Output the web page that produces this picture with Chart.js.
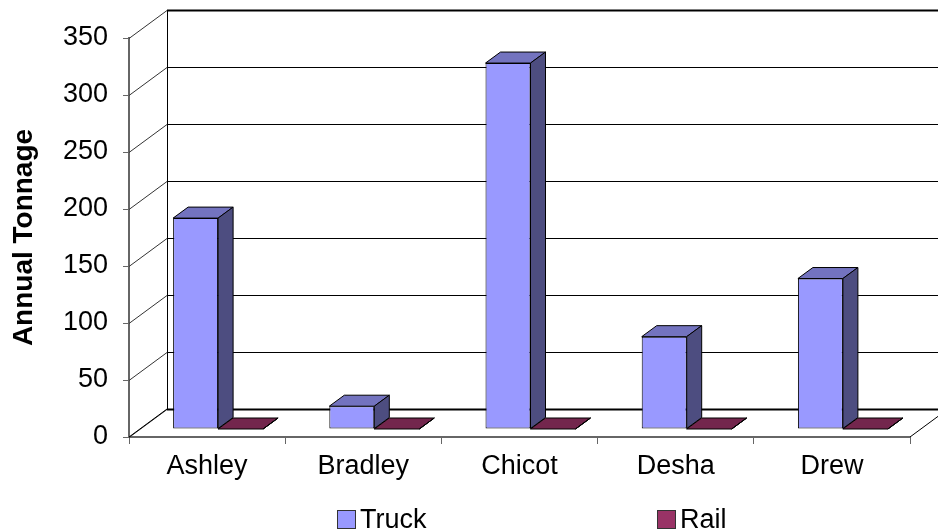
<!DOCTYPE html>
<html>
<head>
<meta charset="utf-8">
<script src="https://cdn.jsdelivr.net/npm/chart.js@4/dist/chart.umd.min.js"></script>
<style>
  html, body { margin: 0; padding: 0; background: #fff; overflow: hidden; }
  canvas { display: block; }
</style>
</head>
<body>
<canvas id="chart" width="938" height="531"></canvas>
<script>
// County freight volumes by mode
const categories = ['Ashley', 'Bradley', 'Chicot', 'Desha', 'Drew'];
const truckTonnage = [185, 20, 321, 81, 132];
const railTonnage = [0, 0, 0, 0, 0];
const seriesNames = ['Truck', 'Rail'];
const yAxisTitle = 'Annual Tonnage';
const yMin = 0, yMax = 350, yStep = 50;

// Face colours: front, top, side
const truckColors = ['#9999FF', '#7373BF', '#4D4D80'];
const railColors = ['#993366', '#73264D', '#4D1A33'];

// Oblique projection offsets
const FRONT = { dx: 11, dy: -8 };   // bar front face, relative to the front of the floor
const DEPTH = { dx: 15, dy: -11 };  // bar depth
const WALL = { dx: 38, dy: -28 };   // depth of floor / side wall

const FONT = '"Liberation Sans", Arial, sans-serif';
Chart.defaults.font.family = FONT;
Chart.defaults.color = '#000';

function seg(ctx, x1, y1, x2, y2) {
  ctx.beginPath();
  ctx.moveTo(x1, y1);
  ctx.lineTo(x2, y2);
  ctx.stroke();
}

function poly(ctx, pts, fill) {
  ctx.beginPath();
  ctx.moveTo(pts[0][0], pts[0][1]);
  for (let i = 1; i < pts.length; i++) ctx.lineTo(pts[i][0], pts[i][1]);
  ctx.closePath();
  ctx.fillStyle = fill;
  ctx.fill();
  ctx.stroke();
}

const box3d = {
  id: 'box3d',
  beforeDatasetsDraw(chart) {
    const { ctx, chartArea: a, scales: { y } } = chart;
    ctx.save();
    ctx.strokeStyle = '#000';
    ctx.lineWidth = 1;
    // side wall diagonals and back wall gridlines
    y.ticks.forEach(t => {
      const py = Math.round(y.getPixelForValue(t.value)) + 0.5;
      ctx.strokeStyle = '#333';
      seg(ctx, a.left, py, a.left + WALL.dx, py + WALL.dy);
      ctx.strokeStyle = '#000';
      ctx.lineWidth = (t.value === yMax || t.value === yMin) ? 2 : 1;
      seg(ctx, a.left + WALL.dx, py + WALL.dy, a.right + WALL.dx + 2, py + WALL.dy);
      ctx.lineWidth = 1;
    });
    // back wall left edge
    const bx = a.left + WALL.dx + 0.5;
    seg(ctx, bx, y.getPixelForValue(yMax) + WALL.dy, bx, y.getPixelForValue(yMin) + WALL.dy);
    // floor sides
    const fy = y.getPixelForValue(yMin);
    seg(ctx, a.left, fy, a.left + WALL.dx, fy + WALL.dy);
    seg(ctx, a.right, fy, a.right + WALL.dx, fy + WALL.dy);
    ctx.restore();

    // bars' front faces are drawn set back into the depth
    ctx.save();
    ctx.translate(FRONT.dx, FRONT.dy);
  },
  afterDatasetsDraw(chart) {
    const { ctx } = chart;
    ctx.restore();
    ctx.save();
    ctx.strokeStyle = '#000';
    ctx.lineWidth = 1;
    ctx.lineJoin = 'round';
    chart.data.datasets.forEach((ds, di) => {
      const meta = chart.getDatasetMeta(di);
      const cols = ds.faceColors;
      meta.data.forEach(el => {
        const p = el.getProps(['x', 'y', 'base', 'width'], true);
        const x0 = p.x - p.width / 2 + FRONT.dx;
        const x1 = p.x + p.width / 2 + FRONT.dx;
        const yt = p.y + FRONT.dy;
        const yb = p.base + FRONT.dy;
        // top
        poly(ctx, [[x0, yt], [x1, yt], [x1 + DEPTH.dx, yt + DEPTH.dy], [x0 + DEPTH.dx, yt + DEPTH.dy]], cols[1]);
        // right side
        poly(ctx, [[x1, yt], [x1 + DEPTH.dx, yt + DEPTH.dy], [x1 + DEPTH.dx, yb + DEPTH.dy], [x1, yb]], cols[2]);
      });
    });
    ctx.restore();
  },
  afterDraw(chart) {
    // legend along the bottom edge
    const { ctx } = chart;
    const startX = 337, slot = 320, boxTop = 510, box = 18;
    ctx.save();
    ctx.font = '27px ' + FONT;
    ctx.textBaseline = 'alphabetic';
    chart.data.datasets.forEach((ds, i) => {
      const x = startX + i * slot;
      ctx.fillStyle = ds.backgroundColor;
      ctx.fillRect(x + 0.5, boxTop + 0.5, box, box);
      ctx.strokeStyle = '#333';
      ctx.lineWidth = 1;
      ctx.strokeRect(x + 0.5, boxTop + 0.5, box, box);
      ctx.fillStyle = '#000';
      ctx.fillText(ds.label, x + box + 5, 528);
    });
    ctx.restore();
  }
};

new Chart(document.getElementById('chart'), {
  type: 'bar',
  data: {
    labels: categories,
    datasets: [
      { label: seriesNames[0], data: truckTonnage, backgroundColor: truckColors[0], faceColors: truckColors },
      { label: seriesNames[1], data: railTonnage, backgroundColor: railColors[0], faceColors: railColors }
    ]
  },
  options: {
    responsive: false,
    animation: false,
    devicePixelRatio: 1,
    layout: { padding: { top: 38, right: 28, bottom: 0, left: 0 } },
    datasets: {
      bar: {
        categoryPercentage: 0.576,
        barPercentage: 1,
        borderColor: '#000',
        borderWidth: 1,
        borderSkipped: false,
        clip: false
      }
    },
    plugins: {
      legend: { display: false },
      tooltip: { enabled: false }
    },
    scales: {
      x: {
        offset: true,
        grid: { display: true, drawOnChartArea: false, drawTicks: true, tickLength: 7, color: '#666', lineWidth: 1 },
        border: { display: true, color: '#666', width: 2 },
        ticks: { font: { size: 27 }, color: '#000', padding: 6 },
        afterFit(scale) { scale.height = 94; }
      },
      y: {
        min: yMin,
        max: yMax,
        ticks: { stepSize: yStep, font: { size: 27 }, color: '#000', padding: 15 },
        grid: { display: true, drawOnChartArea: false, drawTicks: true, tickLength: 6, color: '#666', lineWidth: 1 },
        border: { display: true, color: '#666', width: 2 },
        title: { display: true, text: yAxisTitle, font: { size: 28, weight: 'bold' }, color: '#000', padding: { top: 7, bottom: 0 } },
        afterFit(scale) { scale.width = 129; }
      }
    }
  },
  plugins: [box3d]
});
</script>
</body>
</html>
